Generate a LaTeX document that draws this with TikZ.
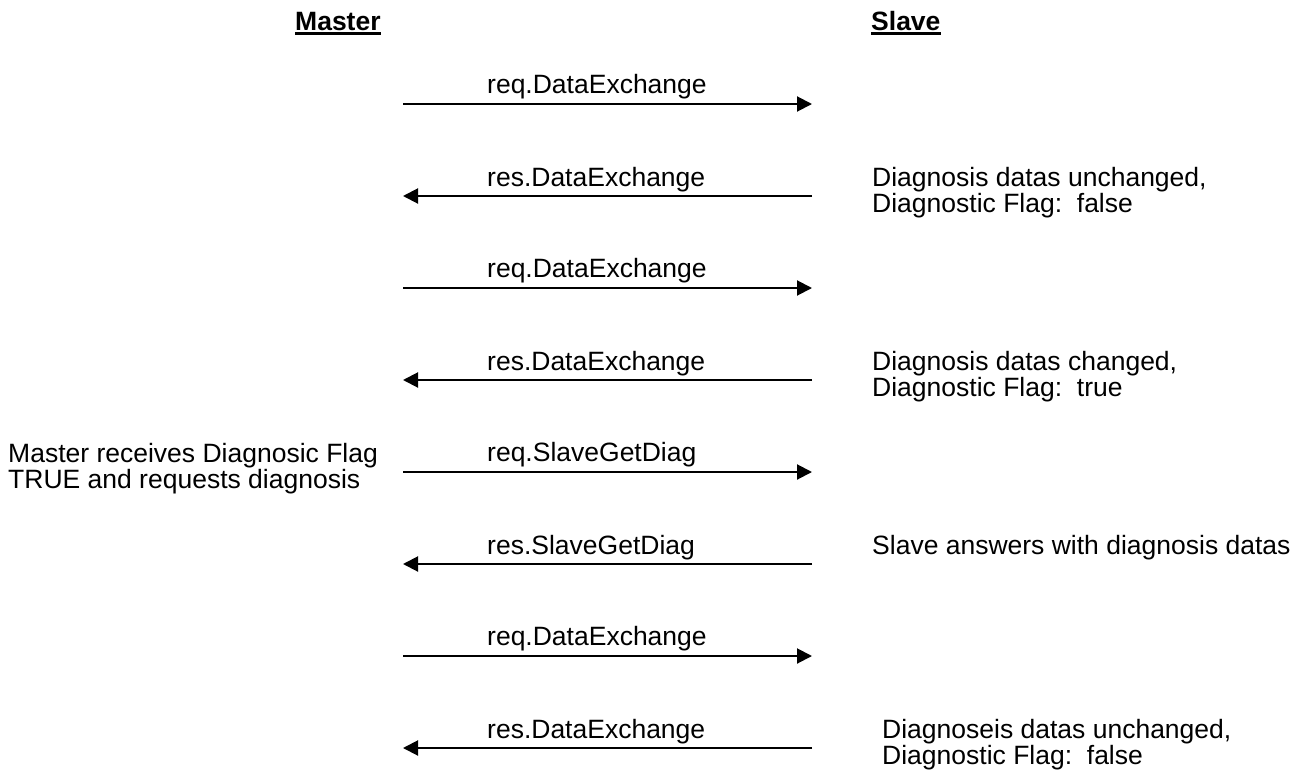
\documentclass[tikz,border=0pt]{standalone}
\usepackage{fontspec}
\setmainfont{Liberation Sans}
\usetikzlibrary{arrows.meta}
\tikzset{
  txt/.style={inner sep=0pt, anchor=base west, font=\fontsize{26.5}{26}\selectfont, align=left},
  title/.style={txt, font=\fontsize{26.5}{26}\selectfont\bfseries},
  msg/.style={line width=2pt, -{Triangle[length=15pt,width=15pt]}},
  uline/.style={line width=2.6pt}
}
\begin{document}
\begin{tikzpicture}[x=1pt,y=-1pt]
\useasboundingbox (0,0) rectangle (1304,771);
% titles
\node[title] (master) at (295,30) {Master};
\node[title] (slave) at (871,30) {Slave};
\draw[uline] ([yshift=-3.5pt]master.base west) -- ([yshift=-3.5pt]master.base east);
\draw[uline] ([yshift=-3.5pt]slave.base west) -- ([yshift=-3.5pt]slave.base east);
% message end points
\foreach \i/\y in {1/104,2/196,3/288,4/380,5/472,6/564,7/656,8/748}{
  \coordinate (m\i) at (403,\y);
  \coordinate (s\i) at (812,\y);
}
% arrows
\draw[msg] (m1) -- (s1);
\draw[msg] (s2) -- (m2);
\draw[msg] (m3) -- (s3);
\draw[msg] (s4) -- (m4);
\draw[msg] (m5) -- (s5);
\draw[msg] (s6) -- (m6);
\draw[msg] (m7) -- (s7);
\draw[msg] (s8) -- (m8);
% labels
\node[txt] (l1) at (487,93) {req.DataExchange};
\node[txt] (l2) at (487,186) {res.DataExchange};
\node[txt] (l3) at (487,277) {req.DataExchange};
\node[txt] (l4) at (487,370) {res.DataExchange};
\node[txt] (l5) at (487,461) {req.SlaveGetDiag};
\node[txt] (l6) at (487,554) {res.SlaveGetDiag};
\node[txt] (l7) at (487,645) {req.DataExchange};
\node[txt] (l8) at (487,738) {res.DataExchange};
% annotations (base anchor = last line)
\node[txt] (a2) at (872,212) {Diagnosis datas unchanged,\\Diagnostic Flag:\ \ false};
\node[txt] (a4) at (872,396) {Diagnosis datas changed,\\Diagnostic Flag:\ \ true};
\node[txt] (a5) at (8,488) {Master receives Diagnosic Flag\\TRUE and requests diagnosis};
\node[txt] (a6) at (872,554) {Slave answers with diagnosis datas};
\node[txt] (a8) at (882,764) {Diagnoseis datas unchanged,\\Diagnostic Flag:\ \ false};
\end{tikzpicture}
\end{document}
